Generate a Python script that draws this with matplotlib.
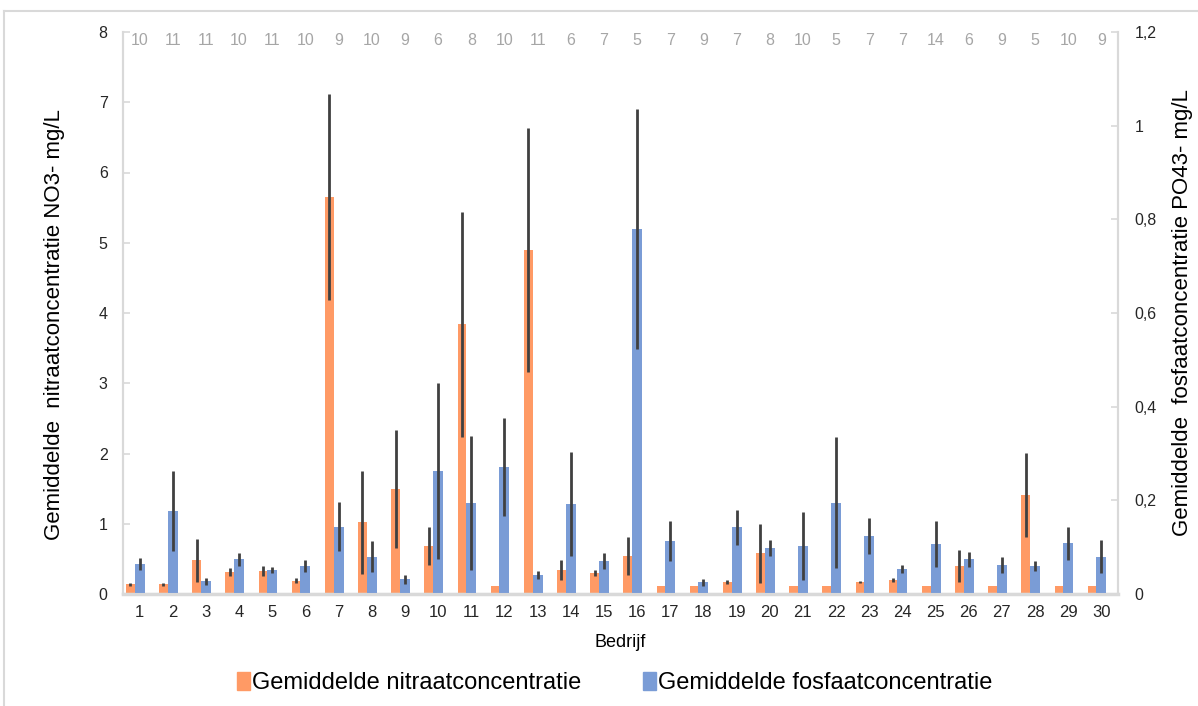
import matplotlib
matplotlib.use("Agg")
import matplotlib.pyplot as plt
from matplotlib.ticker import FuncFormatter, MultipleLocator
from matplotlib.lines import Line2D
import numpy as np

plt.rcParams["font.family"] = ["Liberation Sans", "DejaVu Sans"]

# per farm: mean nitrate (mg/L, left axis) and mean phosphate (mg/L, right axis)
bedrijf = list(range(1, 31))
nitraat = [0.14, 0.14, 0.48, 0.31, 0.33, 0.19, 5.65, 1.02, 1.50, 0.68,
           3.84, 0.12, 4.90, 0.34, 0.30, 0.54, 0.12, 0.12, 0.17, 0.58,
           0.12, 0.12, 0.17, 0.20, 0.12, 0.40, 0.12, 1.41, 0.12, 0.12]
nitraat_sd = [0.02, 0.02, 0.31, 0.06, 0.07, 0.04, 1.47, 0.73, 0.84, 0.27,
              1.60, 0.0, 1.74, 0.14, 0.04, 0.27, 0.0, 0.0, 0.03, 0.42,
              0.0, 0.0, 0.02, 0.03, 0.0, 0.23, 0.0, 0.60, 0.0, 0.0]
fosfaat = [0.064, 0.177, 0.027, 0.074, 0.051, 0.060, 0.144, 0.080, 0.031, 0.263,
           0.195, 0.271, 0.041, 0.193, 0.071, 0.779, 0.113, 0.025, 0.142, 0.098,
           0.103, 0.195, 0.124, 0.053, 0.106, 0.074, 0.062, 0.060, 0.108, 0.080]
fosfaat_sd = [0.012, 0.085, 0.008, 0.014, 0.006, 0.0125, 0.052, 0.033, 0.010, 0.188,
              0.143, 0.105, 0.008, 0.111, 0.017, 0.256, 0.042, 0.007, 0.038, 0.017,
              0.073, 0.140, 0.038, 0.008, 0.049, 0.016, 0.017, 0.010, 0.035, 0.036]
# number of samples per farm, printed along the top
n_monsters = [10, 11, 11, 10, 11, 10, 9, 10, 9, 6, 8, 10, 11, 6, 7, 5, 7, 9, 7, 8,
              10, 5, 7, 7, 14, 6, 9, 5, 10, 9]

ORANGE, BLUE = "#FF9A65", "#7A9CD6"
ERR, GRID, MUTED = "#404040", "#D9D9D9", "#A6A6A6"

fig = plt.figure(figsize=(11.98, 7.06), dpi=100)
ax = fig.add_axes([123 / 1198, 1 - 594 / 706, 995 / 1198, 562 / 706])
ax2 = ax.twinx()

x = np.array(bedrijf, dtype=float)
ekw = dict(ecolor=ERR, elinewidth=2.0, capsize=0)
ax.bar(x - 0.28, nitraat, width=0.26, color=ORANGE, yerr=nitraat_sd,
       error_kw=ekw, zorder=2)
ax2.bar(x, fosfaat, width=0.30, color=BLUE, yerr=fosfaat_sd,
        error_kw=ekw, zorder=2)

ax.set_xlim(0.5, 30.5)
ax.set_ylim(0, 8)
ax2.set_ylim(0, 1.2)
ax.set_xticks(bedrijf)
ax.yaxis.set_major_locator(MultipleLocator(1))
ax2.yaxis.set_major_locator(MultipleLocator(0.2))
ax2.yaxis.set_major_formatter(FuncFormatter(lambda v, p: f"{v:.1f}".rstrip("0").rstrip(".").replace(".", ",")))

for a in (ax, ax2):
    a.spines["top"].set_visible(False)
    for s in ("left", "right", "bottom"):
        a.spines[s].set_color(GRID)
        a.spines[s].set_linewidth(1.5)
ax.spines["bottom"].set_linewidth(2.5)

ax.tick_params(axis="x", length=0, pad=8, labelsize=12, labelcolor="#262626")
ax.tick_params(axis="y", direction="in", length=5, width=1.2, color=GRID,
               pad=11, labelsize=11.5, labelcolor="#262626")
ax2.tick_params(axis="y", direction="in", length=5, width=1.2, color=GRID,
                pad=12, labelsize=11.5, labelcolor="#262626")

for xi, n in zip(bedrijf, n_monsters):
    ax.text(xi, 0.985, str(n), transform=ax.get_xaxis_transform(),
            ha="center", va="center", fontsize=11.5, color=MUTED, zorder=5)

ax.set_xlabel("Bedrijf", fontsize=13, color="black", labelpad=10)
ax.set_ylabel("Gemiddelde  nitraatconcentratie NO3- mg/L", fontsize=16,
              color="black")
ax2.set_ylabel("Gemiddelde  fosfaatconcentratie PO43- mg/L", fontsize=16,
               color="black")
ax.yaxis.set_label_coords(-58 / 995, 0.48)
ax2.yaxis.set_label_coords(1 + 54 / 995, 0.5)

# legend below the axis title
handles = [plt.Rectangle((0, 0), 1, 1, color=ORANGE), plt.Rectangle((0, 0), 1, 1, color=BLUE)]
fig.legend(handles, ["Gemiddelde nitraatconcentratie", "Gemiddelde fosfaatconcentratie"],
           loc="center", bbox_to_anchor=(615 / 1198, 1 - 683 / 706), ncol=2,
           frameon=False, fontsize=17, handlelength=0.55, handleheight=0.8,
           handletextpad=0.1, columnspacing=2.6)

# chart-area border along the top and left edge
fig.add_artist(Line2D([4 / 1198, 1], [1 - 11 / 706] * 2, color=GRID, lw=1.5,
                      transform=fig.transFigure))
fig.add_artist(Line2D([4 / 1198] * 2, [0, 1 - 11 / 706], color=GRID, lw=1.5,
                      transform=fig.transFigure))

fig.savefig("out.png", dpi=100)
